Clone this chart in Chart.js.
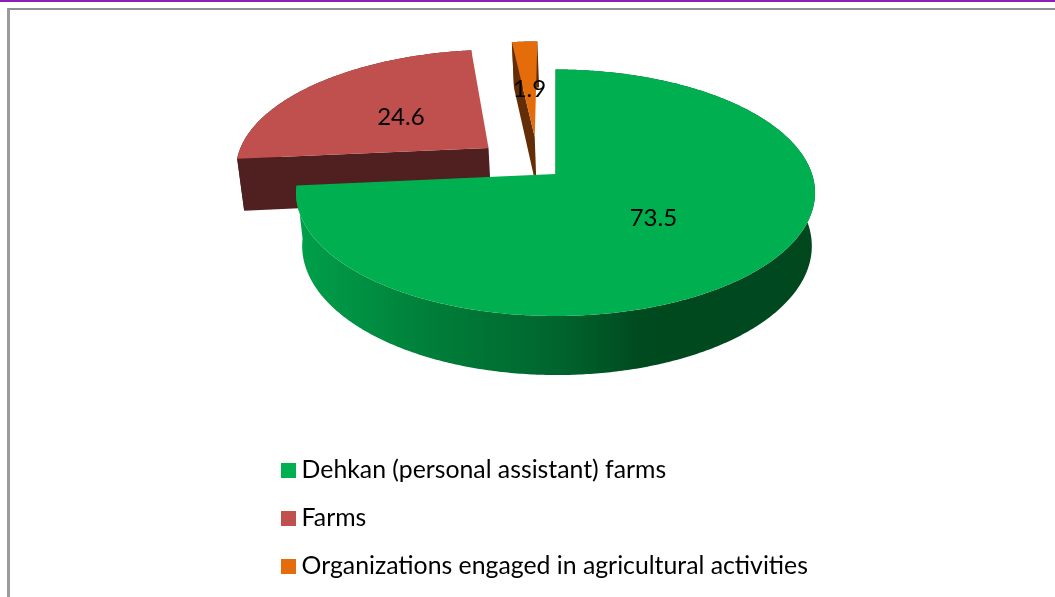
<!DOCTYPE html>
<html>
<head>
<meta charset="utf-8">
<title>Farm categories</title>
<script src="https://cdn.jsdelivr.net/npm/chart.js@4"></script>
<style>
    html, body { margin: 0; padding: 0; background: #fff; overflow: hidden; }
    #page { position: relative; width: 1055px; height: 597px; }
    #rule { position: absolute; left: 0; top: 0; width: 100%; height: 2px; background: #8c20b6; }
    #frame { position: absolute; left: 7px; top: 8px; right: 0; bottom: 0; border-left: 3px solid #9b9b9b; border-top: 2px solid #8f8f8f; }
    canvas { position: absolute; left: 0; top: 0; }
</style>
</head>
<body>
<div id="page">
    <div id="rule"></div>
    <div id="frame"></div>
    <canvas id="pieChart" width="1055" height="597"></canvas>
</div>
<script>
const categories = ['Dehkan (personal assistant) farms', 'Farms', 'Organizations engaged in agricultural activities'];
const shares = [73.5, 24.6, 1.9];
const topColors = ['#00b050', '#c0504d', '#e46c0a'];

// Tilted disc: a point (u, v) on the unit disc and height z (0 top, 1 bottom) lands on screen
const view = { x: 555.5, y: 174, a: 256.5, b: 120.4, k: 0.152, m: 0.018, depth: 53.7, lean: 1.5 };
// How far each slice is pulled out, in disc units
const pull = [[0, 0], [-0.27, -0.224], [-0.085, -0.322]];
const wallColors = [null, '#4f201f', '#632e05'];
const labelReach = 0.49;
const labelFont = '24px Lato, "Open Sans", sans-serif';

function project(u, v, z) {
    const w = 1 - view.k * v + view.m * z;
    return [view.x + view.lean * z + view.a * u / w, view.y + (view.b * v + view.depth * z) / w];
}

function fillPath(ctx, points, color) {
    ctx.beginPath();
    points.forEach((p, i) => i ? ctx.lineTo(p[0], p[1]) : ctx.moveTo(p[0], p[1]));
    ctx.closePath();
    ctx.fillStyle = color;
    ctx.fill();
}

function rimPoints(start, end, shift, z) {
    const out = [];
    const steps = Math.max(2, Math.ceil((end - start) / 0.01));
    for (let i = 0; i <= steps; i++) {
        const t = start + (end - start) * i / steps;
        out.push(project(Math.cos(t) + shift[0], Math.sin(t) + shift[1], z));
    }
    return out;
}

function greenWall(ctx) {
    const g = ctx.createLinearGradient(298, 0, 815, 0);
    g.addColorStop(0, '#00a04a');
    g.addColorStop(0.25, '#007f3a');
    g.addColorStop(0.5, '#00652d');
    g.addColorStop(0.66, '#004a20');
    g.addColorStop(1, '#00471e');
    return g;
}

const pie3d = {
    id: 'pie3d',
    afterLayout(chart) {
        // legend sits under the pie, stacked on the left
        const legend = chart.legend;
        legend.left = 265;
        legend.right = 1055;
        legend.top = 434.5;
        legend.bottom = 2000;
    },
    beforeDatasetsDraw(chart) {
        const ctx = chart.ctx;
        const arcs = chart.getDatasetMeta(0).data;
        // back slices first, the big one goes over them
        [2, 1, 0].forEach(i => {
            const { startAngle, endAngle } = arcs[i];
            const s = pull[i];
            const wall = wallColors[i] || greenWall(ctx);
            const hub = [project(s[0], s[1], 0), project(s[0], s[1], 1)];
            const first = project(Math.cos(startAngle) + s[0], Math.sin(startAngle) + s[1], 0);
            const firstLow = project(Math.cos(startAngle) + s[0], Math.sin(startAngle) + s[1], 1);
            fillPath(ctx, [first, hub[0], hub[1], firstLow], wall);
            const upper = rimPoints(startAngle, endAngle, s, 0);
            const lower = rimPoints(startAngle, endAngle, s, 1);
            fillPath(ctx, upper.concat(lower.reverse()), wall);
            fillPath(ctx, [hub[0]].concat(upper), topColors[i]);
        });
        ctx.save();
        ctx.font = labelFont;
        ctx.fillStyle = '#000';
        ctx.textAlign = 'center';
        ctx.textBaseline = 'middle';
        arcs.forEach((arc, i) => {
            const mid = (arc.startAngle + arc.endAngle) / 2;
            const p = project(labelReach * Math.cos(mid) + pull[i][0], labelReach * Math.sin(mid) + pull[i][1], 0);
            ctx.fillText(shares[i].toFixed(1), p[0], p[1] + 2);
        });
        ctx.restore();
        return false;
    }
};

function swatch(color) {
    const c = document.createElement('canvas');
    c.width = c.height = 15;
    const x = c.getContext('2d');
    x.fillStyle = color;
    x.fillRect(0, 0, 15, 15);
    return c;
}

new Chart(document.getElementById('pieChart').getContext('2d'), {
    type: 'pie',
    data: {
        labels: categories,
        datasets: [{ data: shares, backgroundColor: topColors, borderWidth: 0 }]
    },
    options: {
        responsive: false,
        animation: false,
        plugins: {
            tooltip: { enabled: false },
            legend: {
                position: 'left',
                align: 'start',
                labels: {
                    usePointStyle: true,
                    pointStyleWidth: 1,
                    boxHeight: 15,
                    padding: 23.2,
                    color: '#000',
                    font: { family: 'Lato, "Open Sans", sans-serif', size: 24.8 },
                    generateLabels(chart) {
                        return Chart.overrides.pie.plugins.legend.labels.generateLabels(chart)
                            .map((item, i) => Object.assign(item, { pointStyle: swatch(topColors[i]) }));
                    }
                }
            }
        }
    },
    plugins: [pie3d]
});
</script>
</body>
</html>
